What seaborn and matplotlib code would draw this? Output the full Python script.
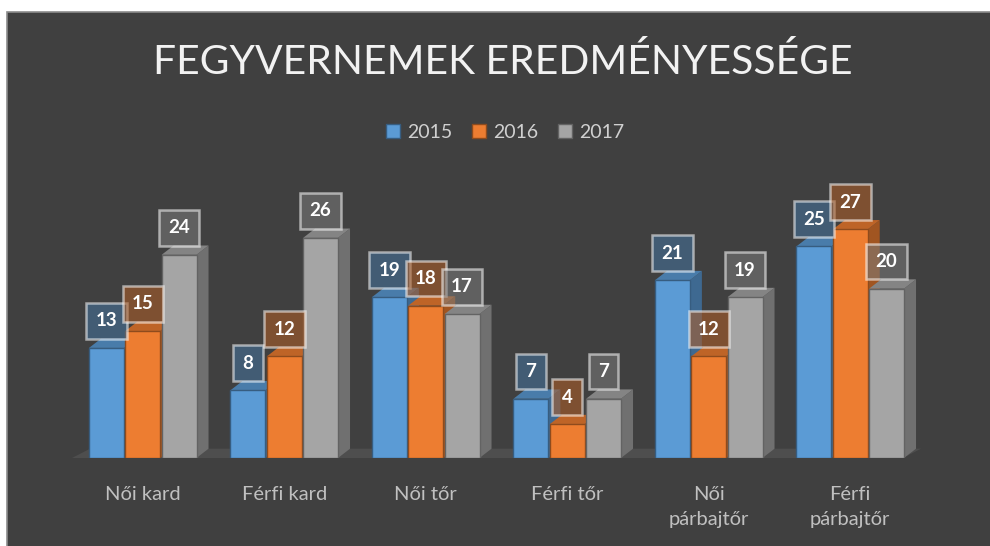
import numpy as np
import pandas as pd
import matplotlib
matplotlib.use("Agg")
import matplotlib.pyplot as plt
import seaborn as sns
from matplotlib.patches import Polygon, Rectangle, Patch
from matplotlib.colors import to_rgba, to_rgb

# Chart data
categories = ["Női kard", "Férfi kard", "Női tőr", "Férfi tőr", "Női párbajtőr", "Férfi párbajtőr"]
tick_labels = ["Női kard", "Férfi kard", "Női tőr", "Férfi tőr", "Női\npárbajtőr", "Férfi\npárbajtőr"]
years = ["2015", "2016", "2017"]
v2015 = [13, 8, 19, 7, 21, 25]
v2016 = [15, 12, 18, 4, 12, 27]
v2017 = [24, 26, 17, 7, 19, 20]

colors = ["#5b9bd5", "#ed7d31", "#a5a5a5"]
bg = "#404040"
fonts = ["Lato", "DejaVu Sans"]

df = pd.DataFrame({
    "cat": categories * 3,
    "year": [y for y in years for _ in categories],
    "val": v2015 + v2016 + v2017,
})

sns.set_theme(style="white")
plt.rcParams["font.family"] = fonts

fig = plt.figure(figsize=(9.9, 5.46), dpi=100)
fig.patch.set_facecolor("white")
# dark chart area with thin border
fig.patches.append(Rectangle((7 / 990, -0.05), 1.1, 1 - 12 / 546 + 0.05, transform=fig.transFigure,
                             facecolor=bg, edgecolor="#8c8c8c", lw=1.2, zorder=-10))

ax = fig.add_axes([72 / 990, 88 / 546, (921 - 72) / 990, (458 - 204) / 546])
ax.set_facecolor("none")

sns.barplot(data=df, x="cat", y="val", hue="year", palette=colors, width=0.77,
            gap=0.04, saturation=1, ax=ax, legend=False, zorder=3)

ax.set_xlim(-0.5, 5.5)
ax.set_ylim(0, 30)
for s in ax.spines.values():
    s.set_visible(False)
ax.set_yticks([])
ax.set_xlabel("")
ax.set_ylabel("")
ax.set_xticks(range(len(categories)))
ax.set_xticklabels(tick_labels, color="#c0c0c0", fontsize=14.5, linespacing=1.6)
ax.tick_params(axis="x", length=0, pad=20)

# pseudo 3D depth
dx, dy = 0.085, 1.1

def shade(c, f):
    r, g, b = to_rgb(c)
    return (r * f, g * f, b * f)

# floor
x0, x1 = ax.get_xlim()
ax.add_patch(Polygon([(x0, 0), (x1 - dx * 1.5, 0), (x1, dy), (x0 + dx * 1.5, dy)],
                     closed=True, facecolor="#4e4e4e", edgecolor="none", zorder=0, clip_on=False))

for i, bar in enumerate(ax.patches[:18]):
    c = colors[i // len(categories)]
    x, w, h = bar.get_x(), bar.get_width(), bar.get_height()
    bar.set_edgecolor(shade(c, 0.6))
    bar.set_linewidth(1.0)
    side = Polygon([(x + w, 0), (x + w + dx, dy), (x + w + dx, h + dy), (x + w, h)],
                   closed=True, facecolor=shade(c, 0.68), edgecolor="none", zorder=2, clip_on=False)
    top = Polygon([(x, h), (x + dx, h + dy), (x + w + dx, h + dy), (x + w, h)],
                  closed=True, facecolor=shade(c, 0.8), edgecolor="none", zorder=2, clip_on=False)
    ax.add_patch(side)
    ax.add_patch(top)
    ax.text(x + w / 2, h + dy + 1.1, f"{int(h)}", ha="center", va="bottom", color="white",
            fontsize=13.5, fontweight="bold", zorder=6, clip_on=False,
            bbox=dict(boxstyle="square,pad=0.5", facecolor=to_rgba(shade(c, 0.75), 0.55),
                      edgecolor=(1, 1, 1, 0.55), linewidth=1.8))

# legend
handles = [Patch(facecolor=c, edgecolor=shade(c, 0.6), label=y) for c, y in zip(colors, years)]
leg = fig.legend(handles=handles, loc="center", bbox_to_anchor=(0.51, 1 - 132 / 546), ncol=3,
                 frameon=False, fontsize=14, handlelength=0.75, handleheight=0.75,
                 handletextpad=0.35, columnspacing=1.0, labelcolor="#d0d0d0")

fig.text(0.508, 1 - 62 / 546, "FEGYVERNEMEK EREDMÉNYESSÉGE", ha="center", va="center",
         fontsize=29.3, color="#f2f2f2", fontweight="normal")

fig.savefig("out.png", dpi=100, facecolor=fig.get_facecolor())
